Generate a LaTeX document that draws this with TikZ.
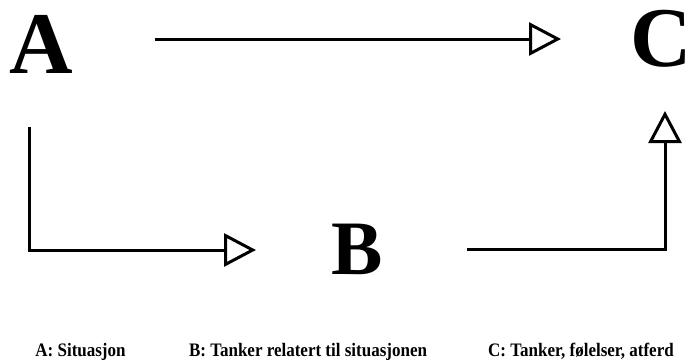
\documentclass[tikz,border=0pt]{standalone}
\usepackage{fontspec}
\setmainfont{Liberation Serif}
\usetikzlibrary{arrows.meta}
\tikzset{
  big/.style={inner sep=0pt, anchor=base, font=\bfseries\fontsize{#1}{#1}\selectfont},
  caption/.style={inner sep=0pt, anchor=base, font=\bfseries\fontsize{17}{17}\selectfont, yscale=1.12},
  arr/.style={line width=3pt, -{Triangle[open, length=32pt, width=33pt, line width=3pt]}}
}
\begin{document}
\begin{tikzpicture}[x=1pt, y=-1pt]
\useasboundingbox (0,0) rectangle (685,362);
\node[big=88] (a) at (41.5,73) {A};
\node[big=77] (b) at (357.5,274) {B};
\node[big=85, anchor=base west] (c) at (630.5,66) {C};
\coordinate (a0) at (155,39);
\coordinate (c0) at (561,39);
\coordinate (a1) at (29,127);
\coordinate (b0) at (256,250);
\coordinate (b1) at (467,249);
\coordinate (c1) at (665,111);
\draw[arr] (a0) -- (c0);
\draw[arr] (a1) |- (b0);
\draw[arr] (b1) -| (c1);
\node[caption] (la) at (80.5,356) {A: Situasjon};
\node[caption] (lb) at (308,356) {B: Tanker relatert til situasjonen};
\node[caption] (lc) at (581,356) {C: Tanker, følelser, atferd};
\end{tikzpicture}
\end{document}
